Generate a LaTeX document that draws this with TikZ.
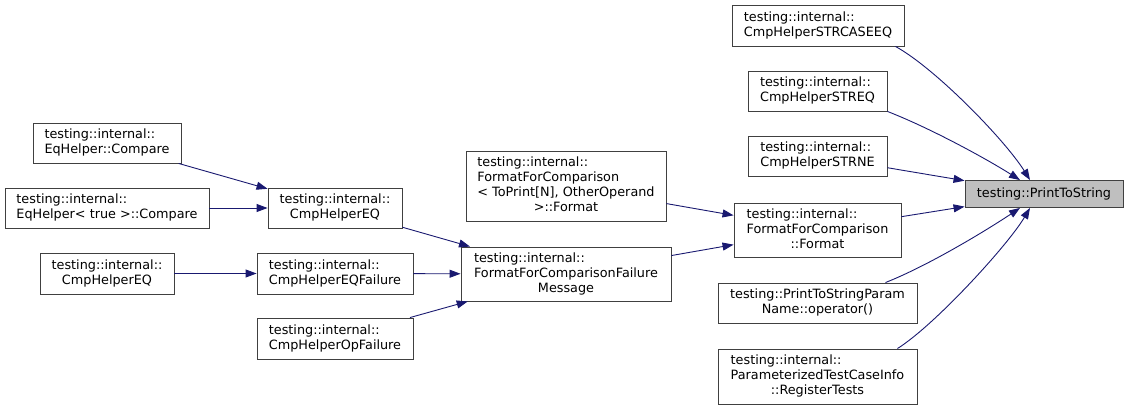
\documentclass[tikz,border=0pt]{standalone}
\usepackage{fontspec}
\setmainfont{DejaVu Sans}
\usetikzlibrary{arrows.meta}
\definecolor{bord}{HTML}{404040}
\definecolor{edgec}{HTML}{191970}
\definecolor{hl}{HTML}{BFBFBF}
\newcommand{\dl}[2]{\begin{tabular}{@{}l@{}}#1\\\multicolumn{1}{@{}c@{}}{#2}\end{tabular}}
\begin{document}
\begin{tikzpicture}[x=1pt,y=-1pt,
  box/.style={draw=bord,line width=0.9pt,fill=white,rectangle,inner sep=0pt,
    font=\fontsize{12.8}{15}\selectfont,text=black},
  edge/.style={draw=edgec,line width=0.9pt,-{Triangle[length=11pt,width=8pt]},edgec}]
\useasboundingbox (0,0) rectangle (1128,410);
\node[box,fill=hl,minimum width=158pt,minimum height=27pt] (pts) at (1044,194) {testing::PrintToString};
\node[box,minimum width=172pt,minimum height=41pt] (stcase) at (818,25.5) {\dl{testing::internal::}{CmpHelperSTRCASEEQ}};
\node[box,minimum width=139pt,minimum height=40pt] (streq) at (817.5,91) {\dl{testing::internal::}{CmpHelperSTREQ}};
\node[box,minimum width=139pt,minimum height=40pt] (strne) at (817.5,156) {\dl{testing::internal::}{CmpHelperSTRNE}};
\node[box,minimum width=167pt,minimum height=54pt] (fmt) at (817.5,230) {\dl{testing::internal::\\FormatForComparison}{::Format}};
\node[box,minimum width=199pt,minimum height=40pt] (pn) at (817.5,303) {\dl{testing::PrintToStringParam}{Name::operator()}};
\node[box,minimum width=199pt,minimum height=55pt] (ptci) at (817.5,376.5) {\dl{testing::internal::\\ParameterizedTestCaseInfo}{::RegisterTests}};
\node[box,minimum width=200pt,minimum height=70pt] (ffcn) at (566,186) {\dl{testing::internal::\\FormatForComparison\\< ToPrint[N], OtherOperand}{>::Format}};
\node[box,minimum width=210pt,minimum height=54pt] (ffcfm) at (566,274) {\dl{testing::internal::\\FormatForComparisonFailure}{Message}};
\node[box,minimum width=148pt,minimum height=40pt] (eqc) at (107,143) {\dl{testing::internal::}{EqHelper::Compare}};
\node[box,minimum width=204pt,minimum height=40pt] (eqt) at (107,208) {\dl{testing::internal::}{EqHelper< true >::Compare}};
\node[box,minimum width=134pt,minimum height=40pt] (cmpeq) at (335,208) {\dl{testing::internal::}{CmpHelperEQ}};
\node[box,minimum width=134pt,minimum height=41pt] (cmpeqb) at (107,273.5) {\dl{testing::internal::}{CmpHelperEQ}};
\node[box,minimum width=156pt,minimum height=41pt] (eqf) at (335,273.5) {\dl{testing::internal::}{CmpHelperEQFailure}};
\node[box,minimum width=156pt,minimum height=41pt] (opf) at (335,338.5) {\dl{testing::internal::}{CmpHelperOpFailure}};
% edges
\draw[edge] ([xshift=-9pt]stcase.south east) .. controls (935,68) and (1005,140) .. ([xshift=-14pt]pts.north);
\draw[edge] (streq.south east) .. controls (930,128) and (985,158) .. ([xshift=-24pt]pts.north);
\draw[edge] (strne) -- (pts);
\draw[edge] (fmt) -- (pts);
\draw[edge] ([xshift=-32pt]pn.north east) .. controls (930,265) and (990,228) .. ([xshift=-24pt]pts.south);
\draw[edge] ([xshift=-20pt]ptci.north east) .. controls (935,325) and (1008,245) .. ([xshift=-14pt]pts.south);
\draw[edge] (ffcn) -- (fmt);
\draw[edge] (ffcfm) -- (fmt);
\draw[edge] (cmpeq) -- (ffcfm);
\draw[edge] (eqf) -- (ffcfm);
\draw[edge] (opf) -- (ffcfm);
\draw[edge] (eqc) -- (cmpeq);
\draw[edge] (eqt) -- (cmpeq);
\draw[edge] (cmpeqb) -- (eqf);
\end{tikzpicture}
\end{document}
